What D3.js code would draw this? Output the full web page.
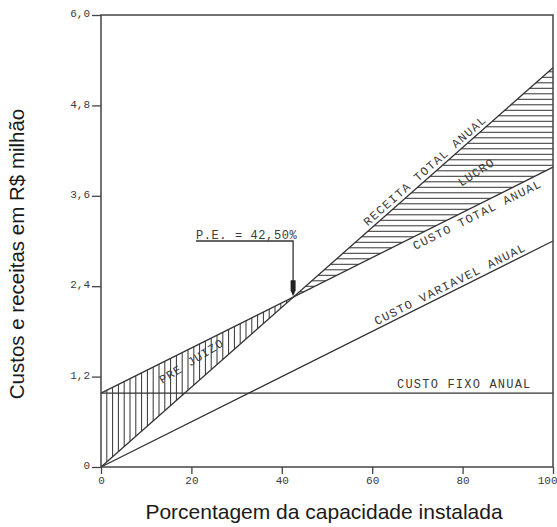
<!DOCTYPE html>
<html>
<head>
<meta charset="utf-8">
<script src="https://cdn.jsdelivr.net/npm/d3@7"></script>
<style>
  body { margin: 0; background: #fff; }
  svg { display: block; }
  .cad { font-family: 'Liberation Mono', 'DejaVu Sans Mono', monospace; fill: #3a3a3a; }
  .title { font-family: 'Liberation Sans', Arial, sans-serif; fill: #1a1a1a; }
</style>
</head>
<body>
<svg class="main-svg" width="557" height="527"></svg>
<script>
// valores (R$ milhao x % da capacidade)
const capacidade = [0, 100]
const receitaTotal = [0, 5.30]
const custoVariavel = [0, 3.0]
const custoFixo = [0.98, 0.98]
const custoTotal = [0.98, 3.98]
const pontoEquilibrio = 42.5
const xTicks = [0, 20, 40, 60, 80, 100]
const yTicks = [0, 1.2, 2.4, 3.6, 4.8, 6.0]

const svg = d3.select('.main-svg')
const margin = { left: 101, right: 4, top: 15, bottom: 60 }
const width = 557 - margin.left - margin.right
const height = 527 - margin.top - margin.bottom

const x = d3.scaleLinear().domain([0, 100]).range([0, width])
const y = d3.scaleLinear().domain([0, 6]).range([height, 0])

const g = svg.append('g').attr('transform', `translate(${margin.left},${margin.top})`)

// interpolacao linear sobre os dois pontos de cada reta
const valueAt = (serie, c) => serie[0] + (serie[1] - serie[0]) * (c - capacidade[0]) / (capacidade[1] - capacidade[0])
const capAt = (serie, v) => capacidade[0] + (v - serie[0]) * (capacidade[1] - capacidade[0]) / (serie[1] - serie[0])

const ink = '#333'

// hachura do prejuizo (verticais)
const hatchStep = 5.8
const peX = x(pontoEquilibrio)
d3.range(hatchStep, peX, hatchStep).forEach(px => {
  const c = x.invert(px)
  g.append('line')
    .attr('x1', px).attr('x2', px)
    .attr('y1', y(valueAt(receitaTotal, c)))
    .attr('y2', y(valueAt(custoTotal, c)))
    .attr('stroke', ink).attr('stroke-width', 1)
})

// hachura do lucro (horizontais)
const peY = y(valueAt(receitaTotal, pontoEquilibrio))
d3.range(peY - 5.5, y(receitaTotal[1]), -5.5).forEach(py => {
  const v = y.invert(py)
  const c1 = capAt(receitaTotal, v)
  const c2 = Math.min(100, capAt(custoTotal, v))
  g.append('line')
    .attr('x1', x(c1)).attr('x2', x(c2))
    .attr('y1', py).attr('y2', py)
    .attr('stroke', ink).attr('stroke-width', 1)
})

// retas
const line = d3.line().x(d => x(d[0])).y(d => y(d[1]))
;[receitaTotal, custoVariavel, custoFixo, custoTotal].forEach(serie => {
  g.append('path')
    .datum(capacidade.map((c, i) => [c, serie[i]]))
    .attr('d', line)
    .attr('fill', 'none')
    .attr('stroke', ink)
    .attr('stroke-width', 1.3)
})

// moldura
g.append('rect')
  .attr('width', width).attr('height', height)
  .attr('fill', 'none').attr('stroke', '#444').attr('stroke-width', 1.5)

// eixos
const fmt = d => d === 0 ? '0' : d3.format('.1f')(d).replace('.', ',')
const yAxis = g.append('g')
  .call(d3.axisLeft(y).tickValues(yTicks).tickFormat(fmt).tickSize(9).tickPadding(2))
const xAxis = g.append('g')
  .attr('transform', `translate(0,${height})`)
  .call(d3.axisBottom(x).tickValues(xTicks).tickSize(7).tickPadding(2))
;[yAxis, xAxis].forEach(a => {
  a.select('.domain').remove()
  a.selectAll('.tick line').attr('stroke', '#444').attr('stroke-width', 1.3)
  a.selectAll('.tick text').attr('class', 'cad').style('font-size', '11px').attr('fill', '#3a3a3a')
})
yAxis.selectAll('.tick text').attr('dy', '0.15em')
// o "100" fica encostado na borda direita
xAxis.selectAll('.tick text').filter(d => d === 100).attr('text-anchor', 'end').attr('dx', 4)

// rotulos das retas
const slope = serie => Math.atan2(y(serie[1]) - y(serie[0]), x(capacidade[1]) - x(capacidade[0])) * 180 / Math.PI
function lineLabel (text, serie, c, offset, size) {
  const px = x(c)
  const py = y(valueAt(serie, c)) + offset
  g.append('text')
    .attr('class', 'cad')
    .attr('transform', `translate(${px},${py}) rotate(${slope(serie)})`)
    .style('font-size', (size || 12) + 'px')
    .style('letter-spacing', '1.2px')
    .text(text)
}
lineLabel('RECEITA TOTAL ANUAL', receitaTotal, 59, -5)
lineLabel('CUSTO TOTAL ANUAL', custoTotal, 69.5, 14)
lineLabel('CUSTO VARIAVEL ANUAL', custoVariavel, 61, -4)

g.append('text')
  .attr('class', 'cad')
  .attr('x', x(65.5)).attr('y', y(custoFixo[0]) - 5)
  .style('font-size', '12px').style('letter-spacing', '1.2px')
  .text('CUSTO FIXO ANUAL')

g.append('text')
  .attr('class', 'cad')
  .attr('transform', `translate(${x(83.5)},${y(3.87)}) rotate(-33)`)
  .style('font-size', '12px').style('letter-spacing', '1px')
  .attr('text-anchor', 'middle')
  .text('LUCRO')

g.append('text')
  .attr('class', 'cad')
  .attr('transform', `translate(${x(20.5)},${y(1.36)}) rotate(-32)`)
  .style('font-size', '12px').style('letter-spacing', '1px')
  .attr('text-anchor', 'middle')
  .text('PRE JUIZO')

// ponto de equilibrio
const labY = y(3.0)
g.append('text')
  .attr('class', 'cad')
  .attr('x', x(21)).attr('y', labY - 2)
  .style('font-size', '12px').style('letter-spacing', '0.6px')
  .text('P.E. = 42,50%')
g.append('path')
  .attr('d', `M${x(21)},${labY}H${peX}V${peY - 14}`)
  .attr('fill', 'none').attr('stroke', ink).attr('stroke-width', 1.3)
g.append('path')
  .attr('d', `M${peX - 2.5},${peY - 17}H${peX + 2.5}V${peY - 7}L${peX},${peY - 1}L${peX - 2.5},${peY - 7}Z`)
  .attr('fill', '#222')

// titulos
svg.append('text')
  .attr('class', 'title')
  .attr('transform', `translate(24,254) rotate(-90)`)
  .attr('text-anchor', 'middle')
  .style('font-size', '20.5px')
  .text('Custos e receitas em R$ milhão')

svg.append('text')
  .attr('class', 'title')
  .attr('x', 324).attr('y', 519)
  .attr('text-anchor', 'middle')
  .style('font-size', '21px')
  .text('Porcentagem da capacidade instalada')
</script>
</body>
</html>
